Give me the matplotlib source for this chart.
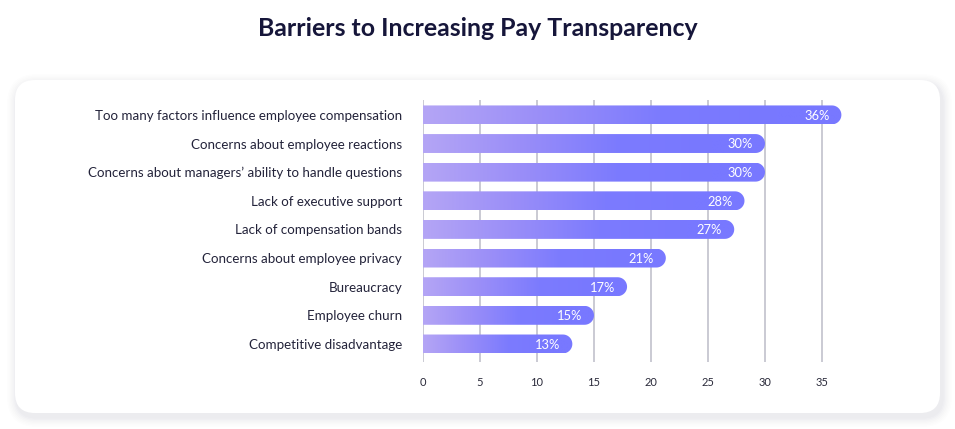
import numpy as np
import matplotlib
matplotlib.use("Agg")
import matplotlib.pyplot as plt
from matplotlib.patches import FancyBboxPatch, PathPatch
from matplotlib.path import Path
from matplotlib.colors import LinearSegmentedColormap

categories = [
    "Too many factors influence employee compensation",
    "Concerns about employee reactions",
    "Concerns about managers\u2019 ability to handle questions",
    "Lack of executive support",
    "Lack of compensation bands",
    "Concerns about employee privacy",
    "Bureaucracy",
    "Employee churn",
    "Competitive disadvantage",
]
values = [36.7, 30.0, 30.0, 28.2, 27.3, 21.3, 17.9, 15.0, 13.1]
value_labels = ["36%", "30%", "30%", "28%", "27%", "21%", "17%", "15%", "13%"]
xticks = [0, 5, 10, 15, 20, 25, 30, 35]
title = "Barriers to Increasing Pay Transparency"

W, H = 955, 429
DPI = 100
plt.rcParams['font.family'] = ['Lato', 'DejaVu Sans']

fig = plt.figure(figsize=(W / DPI, H / DPI), dpi=DPI)
fig.patch.set_facecolor('white')

def fx(px):
    return px / W

def fy(py):
    return 1 - py / H

# card with soft shadow (figure pixel coords)
cx0, cx1, cy0, cy1 = 15, 940, 80, 413
for i, a in enumerate([0.006, 0.007, 0.008, 0.010, 0.012, 0.014, 0.016]):
    grow = 10 - i * 1.4
    sh = FancyBboxPatch((cx0 - grow + 2, H - cy1 - grow - 4), (cx1 - cx0) + 2 * grow, (cy1 - cy0) + 2 * grow,
                        boxstyle="round,pad=0,rounding_size=%f" % (20 + grow),
                        transform=None, facecolor='#303050', edgecolor='none', alpha=a, zorder=0)
    fig.patches.append(sh)
card = FancyBboxPatch((cx0, H - cy1), cx1 - cx0, cy1 - cy0,
                      boxstyle="round,pad=0,rounding_size=20",
                      transform=None, facecolor='white', edgecolor='none', zorder=1)
fig.patches.append(card)

# axes
x0_px, px_per_unit = 423, 11.4
xmax = 38
ax_top_px, ax_bot_px = 100, 362
ax = fig.add_axes([fx(x0_px), fy(ax_bot_px), xmax * px_per_unit / W, (ax_bot_px - ax_top_px) / H])
ax.set_facecolor('none')
ax.set_zorder(2)

for t in xticks:
    ax.axvline(t, color='#c6c6d0', lw=1.3, zorder=1)

for s in ax.spines.values():
    s.set_visible(False)

ax.set_xticks(xticks)
ax.set_xticklabels([str(t) for t in xticks], fontsize=8, color='#2a2a3a')
ax.set_yticks(range(len(categories)))
ax.set_yticklabels(categories, fontsize=9.6, color='#23233a')
ax.tick_params(axis='x', length=0, pad=11)
ax.tick_params(axis='y', length=0, pad=15)

cmap = LinearSegmentedColormap.from_list('g', ['#b4a5f5', '#9a8ef8', '#7c7bfe', '#7878ff'])

bar_h = 0.66
r_px = bar_h * 28.625 / 2
rx = r_px / px_per_unit
grad = np.linspace(0, 1, 256)
grad = np.clip(grad / 0.85, 0, 1)[None, :]

for i, (v, lab) in enumerate(zip(values, value_labels)):
    top, bot = i - bar_h / 2, i + bar_h / 2
    xe = v - rx
    theta = np.linspace(-np.pi / 2, np.pi / 2, 30)
    arc_x = xe + rx * np.cos(theta)
    arc_y = i + (bar_h / 2) * np.sin(theta)
    verts = [(0, top)] + list(zip(arc_x, arc_y)) + [(0, bot), (0, top)]
    codes = [Path.MOVETO] + [Path.LINETO] * (len(verts) - 2) + [Path.CLOSEPOLY]
    path = Path(verts, codes)
    patch = PathPatch(path, facecolor='none', edgecolor='none', transform=ax.transData)
    ax.add_patch(patch)
    im = ax.imshow(grad, cmap=cmap, aspect='auto', extent=(0, v, bot, top),
                   interpolation='bilinear', zorder=3)
    im.set_clip_path(patch)
    ax.text(v - 12 / px_per_unit, i + 0.03, lab, ha='right', va='center',
            color='white', fontsize=9.3, zorder=4)

ax.set_xlim(0, xmax)
ax.set_ylim(8.63, -0.52)

fig.text(0.5, fy(28), title, ha='center', va='center', fontsize=17.9,
         fontweight='bold', color='#16163a')

fig.savefig('out.png', dpi=DPI, facecolor='white')
